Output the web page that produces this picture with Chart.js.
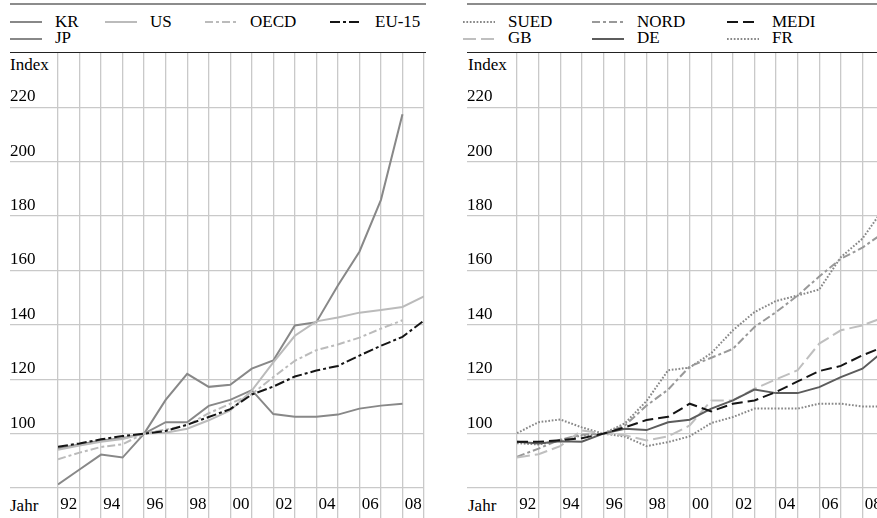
<!DOCTYPE html>
<html>
<head>
<meta charset="utf-8">
<script src="https://cdn.jsdelivr.net/npm/chart.js@4.4.1/dist/chart.umd.min.js"></script>
<style>
  html, body { margin: 0; padding: 0; background: #fff; }
  body {
    width: 877px; height: 518px; overflow: hidden; position: relative;
    font-family: 'Liberation Serif', 'Times New Roman', serif; font-size: 17px; color: #000;
  }
  .rule-top { position: absolute; top: 3px; height: 2px; background: #8c8c8c; }
  .rule-axis { position: absolute; top: 52px; height: 1px; background: #222; }
  .lbl { position: absolute; line-height: 17px; white-space: nowrap; }
  .swatch { position: absolute; overflow: visible; }
  .plot { position: absolute; top: 53px; height: 465px; }
</style>
</head>
<body>
<script>
// x categories (gridline years) and y gridlines
const YEARS = [1991, 1992, 1993, 1994, 1995, 1996, 1997, 1998, 1999, 2000,
               2001, 2002, 2003, 2004, 2005, 2006, 2007, 2008];
const Y_TICKS = [80, 100, 120, 140, 160, 180, 200, 220];

// left panel: countries (Index 1995 = 100)
const KR   = [81.3, 86.8, 92.3, 91.2, 100, 112.4, 122.0, 117.2, 118.0, 123.9, 126.9, 139.8, 141.0, 154.5, 166.9, 186.0, 217.5, null];
const JP   = [94.5, 96.0, 97.5, 98.3, 100, 104.2, 104.2, 110.2, 112.4, 116.0, 107.2, 106.2, 106.2, 107.0, 109.2, 110.3, 111.0, null];
const US   = [94.1, 95.6, 97.0, 98.0, 100, 100.3, 101.8, 104.9, 108.5, 115.8, 126.2, 136.0, 141.3, 142.7, 144.5, 145.5, 146.6, 150.5];
const OECD = [90.6, 93.0, 95.1, 96.1, 100, 101.5, 103.0, 107.5, 111.0, 114.5, 120.8, 126.8, 130.7, 132.8, 135.3, 138.6, 141.7, null];
const EU15 = [95.2, 96.4, 97.9, 99.1, 100, 101.0, 103.3, 106.1, 109.0, 114.4, 117.3, 121.0, 123.2, 124.9, 128.7, 132.3, 135.6, 141.6];

// right panel: regions / countries
const SUED = [96.5, 96.0, 97.6, 99.3, 100, 103.8, 112.0, 123.3, 124.3, 129.6, 138.0, 144.7, 148.8, 150.8, 153.0, 164.9, 171.7, 183.0];
const NORD = [91.5, 94.5, 97.8, 99.6, 100, 103.0, 110.3, 116.2, 124.7, 127.9, 131.2, 139.2, 144.7, 150.8, 157.8, 164.3, 168.4, 174.0];
const MEDI = [97.0, 97.0, 97.6, 98.3, 100, 102.3, 105.0, 106.2, 111.0, 108.2, 111.0, 112.2, 115.3, 119.2, 123.0, 124.9, 128.8, 132.0];
const GB   = [91.2, 92.4, 95.4, 101.2, 100, 99.4, 97.5, 99.0, 103.0, 112.2, 112.2, 116.5, 120.0, 123.3, 133.1, 138.0, 139.8, 142.8];
const DE   = [97.0, 96.4, 97.2, 97.0, 100, 101.8, 101.3, 104.2, 105.1, 109.2, 112.2, 116.2, 114.9, 114.9, 117.1, 120.8, 123.9, 130.5];
const FR   = [100.2, 104.2, 105.2, 102.3, 100, 98.9, 95.4, 96.9, 99.0, 103.9, 106.1, 109.2, 109.2, 109.2, 111.0, 111.0, 110.0, 110.0];

const GRID = '#c9c9c9';
const FONT = "'Liberation Serif', 'Times New Roman', serif";

const STYLE = {
  'KR':    { color: '#888888', dash: [],           z: 3 },
  'JP':    { color: '#888888', dash: [],           z: 4 },
  'US':    { color: '#bbbbbb', dash: [],           z: 2 },
  'OECD':  { color: '#bbbbbb', dash: [8, 3, 3, 3], z: 1 },
  'EU-15': { color: '#151515', dash: [10, 3, 3, 3], z: 0 },
  'SUED':  { color: '#888888', dash: [1.7, 1.7],   z: 4 },
  'NORD':  { color: '#999999', dash: [8, 3, 3, 3], z: 3 },
  'MEDI':  { color: '#151515', dash: [11, 5],      z: 0 },
  'GB':    { color: '#bfbfbf', dash: [13, 5],      z: 2 },
  'DE':    { color: '#5c5c5c', dash: [],           z: 1 },
  'FR':    { color: '#888888', dash: [1.7, 1.7],   z: 5 },
};

const PANELS = [
  {
    left: 0, width: 427, axisW: 48, ruleL: 10, ruleR: 426, textX: 10,
    cols: [10, 105, 205, 330],
    series: [
      { name: 'KR', data: KR, col: 0, row: 0 },
      { name: 'US', data: US, col: 1, row: 0 },
      { name: 'OECD', data: OECD, col: 2, row: 0 },
      { name: 'EU-15', data: EU15, col: 3, row: 0 },
      { name: 'JP', data: JP, col: 0, row: 1 },
    ],
  },
  {
    left: 457, width: 430, axisW: 50, ruleL: 467, ruleR: 877, textX: 468,
    cols: [463, 592, 727],
    series: [
      { name: 'SUED', data: SUED, col: 0, row: 0 },
      { name: 'NORD', data: NORD, col: 1, row: 0 },
      { name: 'MEDI', data: MEDI, col: 2, row: 0 },
      { name: 'GB', data: GB, col: 0, row: 1 },
      { name: 'DE', data: DE, col: 1, row: 1 },
      { name: 'FR', data: FR, col: 2, row: 1 },
    ],
  },
];

const ROW_TEXT_TOP = [12.5, 29];
const ROW_LINE_Y = [22, 38.7];

Chart.defaults.font.family = FONT;
Chart.defaults.font.size = 17;
Chart.defaults.color = '#000';

function addEl(tag, cls, css, text) {
  const el = document.createElement(tag);
  if (cls) el.className = cls;
  Object.assign(el.style, css);
  if (text) el.textContent = text;
  document.body.appendChild(el);
  return el;
}

function addSwatch(x, y, st) {
  const ns = 'http://www.w3.org/2000/svg';
  const svg = document.createElementNS(ns, 'svg');
  svg.setAttribute('class', 'swatch');
  svg.setAttribute('width', 32);
  svg.setAttribute('height', 6);
  svg.style.left = x + 'px';
  svg.style.top = (y - 3) + 'px';
  const line = document.createElementNS(ns, 'line');
  line.setAttribute('x1', 0); line.setAttribute('x2', 32);
  line.setAttribute('y1', 3); line.setAttribute('y2', 3);
  line.setAttribute('stroke', st.color);
  line.setAttribute('stroke-width', 2);
  if (st.dash.length) line.setAttribute('stroke-dasharray', st.dash.join(' '));
  svg.appendChild(line);
  document.body.appendChild(svg);
}

function renderPanel(p) {
  // header rules
  addEl('div', 'rule-top', { left: p.ruleL + 'px', width: (p.ruleR - p.ruleL) + 'px' });
  addEl('div', 'rule-axis', { left: p.ruleL + 'px', width: (p.ruleR - p.ruleL) + 'px' });

  // legend
  for (const s of p.series) {
    const x = p.cols[s.col];
    addSwatch(x, ROW_LINE_Y[s.row], STYLE[s.name]);
    addEl('div', 'lbl', { left: (x + 45) + 'px', top: ROW_TEXT_TOP[s.row] + 'px' }, s.name);
  }

  // axis captions
  addEl('div', 'lbl', { left: p.textX + 'px', top: '56px' }, 'Index');
  addEl('div', 'lbl', { left: p.textX + 'px', top: '496.5px' }, 'Jahr');

  const wrap = addEl('div', 'plot', { left: p.left + 'px', width: p.width + 'px' });
  const canvas = document.createElement('canvas');
  wrap.appendChild(canvas);

  const datasets = p.series.map((s) => ({
    label: s.name,
    data: s.data,
    borderColor: STYLE[s.name].color,
    borderDash: STYLE[s.name].dash,
    borderWidth: 2,
    pointRadius: 0,
    tension: 0,
    fill: false,
    order: STYLE[s.name].z,
  }));

  const gridColor = (ctx) => (ctx.tick && ctx.tick.value % 1 === 0 ? GRID : 'rgba(0,0,0,0)');

  new Chart(canvas, {
    type: 'line',
    data: { labels: YEARS, datasets },
    options: {
      responsive: true,
      maintainAspectRatio: false,
      animation: false,
      layout: { padding: { left: 10, right: 3, top: 0, bottom: 0 } },
      plugins: { legend: { display: false }, tooltip: { enabled: false } },
      scales: {
        x: {
          type: 'linear',
          min: YEARS[0],
          max: YEARS[YEARS.length - 1],
          afterBuildTicks: (s) => {
            const t = [];
            for (let v = YEARS[0]; v <= YEARS[YEARS.length - 1]; v += 0.5) t.push({ value: v });
            s.ticks = t;
          },
          afterFit: (s) => { s.height = 30; s.paddingLeft = 0; s.paddingRight = 0; },
          border: { display: false },
          grid: { color: gridColor, lineWidth: 1.3, drawTicks: true, tickLength: 30 },
          ticks: {
            autoSkip: false, maxRotation: 0, minRotation: 0, padding: -23.5,
            callback: (v) => {
              const yr = v + 0.5;
              if (v % 1 !== 0.5 || yr % 2 !== 0) return '';
              return String(yr).slice(2);
            },
          },
        },
        y: {
          min: 80,
          max: 240,
          afterBuildTicks: (s) => { s.ticks = Y_TICKS.map((v) => ({ value: v })); },
          afterFit: (s) => { s.width = p.axisW; s.paddingTop = 0; s.paddingBottom = 0; },
          border: { display: false },
          grid: { color: GRID, lineWidth: 1.3, drawTicks: true, tickLength: p.axisW },
          ticks: {
            crossAlign: 'far', labelOffset: -10.5, padding: 0,
            callback: (v) => (v === 80 ? '' : v),
          },
        },
      },
    },
  });
}

PANELS.forEach(renderPanel);
</script>
</body>
</html>
